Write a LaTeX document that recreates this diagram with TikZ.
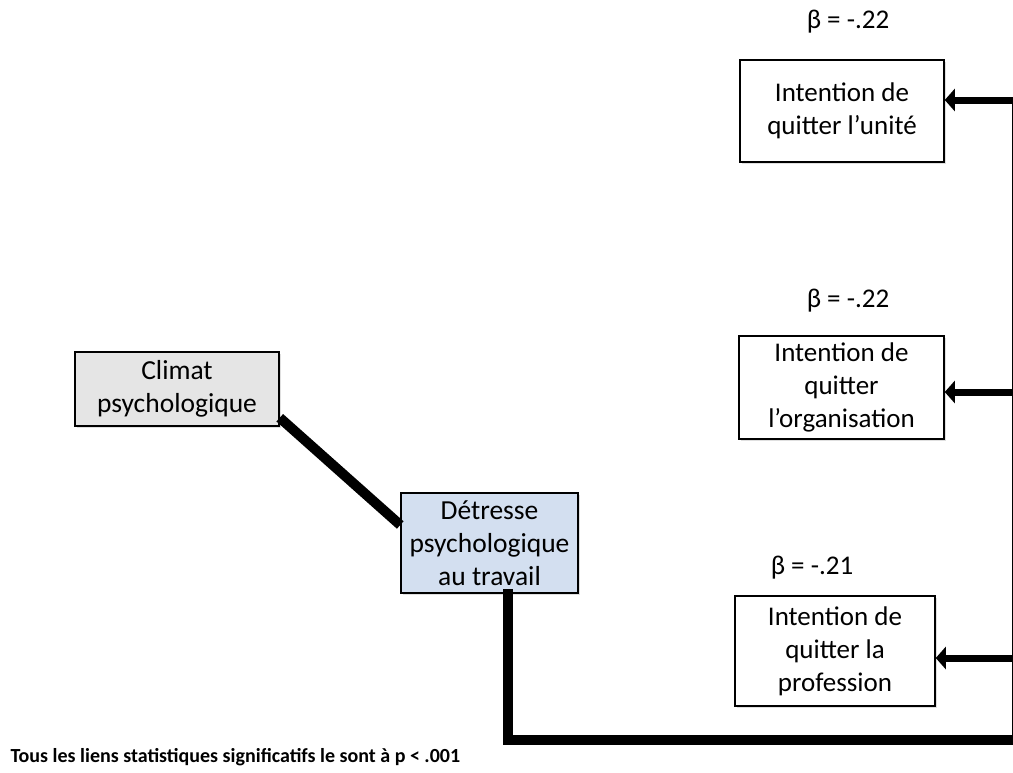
\documentclass[tikz,border=0pt]{standalone}
\usepackage{fontspec}
\setmainfont{Carlito}
\usepackage{tikz}
\usetikzlibrary{arrows,arrows.meta,shadows}

\definecolor{bleuclair}{RGB}{211,223,240}
\definecolor{grisclair}{RGB}{229,229,229}

\begin{document}
\begin{tikzpicture}[x=1pt,y=-1pt]
    \useasboundingbox (0,0) rectangle (1013,772);

    %Predicteurs
     \begin{scope}[every node/.style={rectangle,draw,line width=1.5pt,align=center,
        font=\fontsize{27.5}{33}\selectfont,inner sep=1pt,
        drop shadow={opacity=0.25,shadow xshift=1.5pt,shadow yshift=-2pt}}]
       \node[fill=grisclair, minimum width=204pt, minimum height=74pt] (climat) at (177,389) {Climat\\psychologique};
       \node[fill=bleuclair, minimum width=177pt, minimum height=100pt] (detresse) at (489.5,543) {Détresse\\psychologique\\au travail};
    \end{scope}

    %Intentions
     \begin{scope}[every node/.style={rectangle,draw,line width=1.5pt,align=center,
        fill=white,font=\fontsize{27}{33}\selectfont,inner sep=1pt,
        drop shadow={opacity=0.25,shadow xshift=1.5pt,shadow yshift=-2pt}}]
       \node[minimum width=204pt, minimum height=102pt] (unite) at (842,111) {Intention de\\quitter l’unité};
       \node[minimum width=205pt, minimum height=103pt] (orga) at (841.5,387.5) {Intention de\\quitter\\l’organisation};
       \node[minimum width=200pt, minimum height=110pt] (prof) at (835,651) {Intention de\\quitter la\\profession};
    \end{scope}

    %Coefficients
     \begin{scope}[every node/.style={font=\fontsize{27}{33}\selectfont}]
       \node (b1) at (848,22) {β = -.22};
       \node (b2) at (848,301) {β = -.22};
       \node (b3) at (812,568) {β = -.21};
    \end{scope}

    \coordinate (bas) at (508,740);
    \coordinate (coinbas) at (1017,740);
    \coordinate (coinhaut) at (1017,100);

    \begin{scope}[every edge/.style={draw,line width=10pt}]
      \path ([yshift=9pt]climat.south east) edge ([yshift=18pt]detresse.west);
      \path (detresse.south -| bas) edge[line cap=rect] (bas);
      \path (bas) edge[line cap=rect] (coinbas);
      \path (coinbas) edge (coinhaut);
    \end{scope}

    \begin{scope}[every edge/.style={draw,line width=7pt,-{Triangle[width=22pt,length=10pt]}}]
      \path (coinhaut) edge (unite.east |- coinhaut);
      \path (1017,392) edge (orga.east |- 0,392);
      \path (1017,658) edge (prof.east |- 0,658);
    \end{scope}

    \node[anchor=west, font=\fontsize{20}{24}\selectfont\bfseries] (note) at (7,757) {Tous les liens statistiques significatifs le sont à p < .001};
  \end{tikzpicture}
\end{document}
